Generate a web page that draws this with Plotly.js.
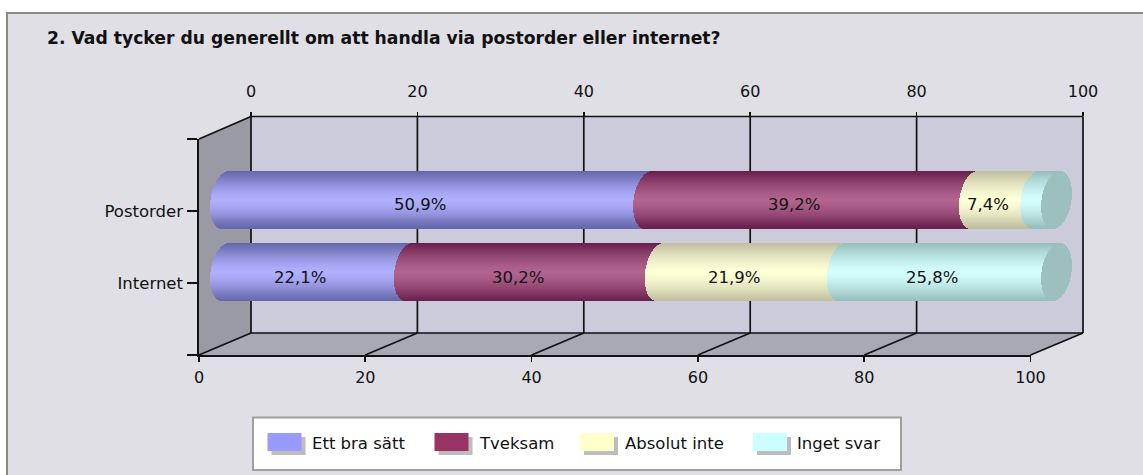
<!DOCTYPE html>
<html><head><meta charset="utf-8">
<script src="https://cdn.plot.ly/plotly-3.0.1.min.js"></script>
<style>html,body{margin:0;padding:0;background:#fff}#c{width:1143px;height:475px}</style>
</head><body><div id="c"></div>
<script>
const categories = ['Postorder', 'Internet'];
const seriesNames = ['Ett bra sätt', 'Tveksam', 'Absolut inte', 'Inget svar'];
const ettBraSatt = [50.9, 22.1];
const tveksam = [39.2, 30.2];
const absolutInte = [7.4, 21.9];
const ingetSvar = [2.5, 25.8];
const titleText = '2. Vad tycker du generellt om att handla via postorder eller internet?';
const xTicks = [0, 20, 40, 60, 80, 100];

const W = 1143, H = 475;
const FONT = 'DejaVu Sans, sans-serif';
const seriesValues = [ettBraSatt, tveksam, absolutInte, ingetSvar];
const centreColors = [[176,176,255],[178,100,143],[255,255,216],[212,255,255]];
const edgeColors = [[100,100,168],[104,30,76],[190,190,160],[148,188,186]];
const swatchColors = ['#9999ff','#993366','#ffffcc','#ccffff'];
const capColor = 'rgb(155,192,189)';

const px = x => x / W, py = y => 1 - y / H;
const S = 8.31, X0 = 225.5, Y0 = 272, U = 72.2;
const RX = 15 / S, SKEW = 3.5 / S, HALF = 28.7 / U, N = 58;
const edge = (v, t, sign) => v + sign * RX * Math.sqrt(Math.max(0, 1 - t * t)) + SKEW * t;
const yRow = [1, 0];

const traces = [];
function shade(c, e, t) {
  const k = Math.pow(Math.abs(t), 1.35);
  return 'rgb(' + c.map((v, i) => Math.round(v + (e[i] - v) * k)).join(',') + ')';
}
function bandTrace(fromFn, toFn, colorFn) {
  const x = [], y = [], base = [], color = [];
  yRow.forEach((yc, r) => {
    for (let b = 0; b < N; b++) {
      const t = 1 - 2 * (b + 0.5) / N;
      const a = fromFn(r, t), z = toFn(r, t);
      y.push(yc + t * HALF); base.push(a); x.push(z - a); color.push(colorFn(t));
    }
  });
  return {type:'bar', orientation:'h', x, y, base, width:(2 * HALF / N) * 1.25,
    marker:{color, line:{width:0}}, hoverinfo:'skip', showlegend:false, xaxis:'x', yaxis:'y'};
}
const cums = [0, 1].map(r => { let c = 0; return [0].concat(seriesValues.map(s => (c += s[r]))); });
seriesValues.forEach((s, i) => {
  traces.push(bandTrace(
    (r, t) => edge(cums[r][i], t, -1),
    (r, t) => edge(cums[r][i + 1], t, i === 3 ? 1 : -1) ,
    t => shade(centreColors[i], edgeColors[i], t)));
});
traces.push(bandTrace((r, t) => edge(100, t, -1), (r, t) => edge(100, t, 1), () => capColor));
traces.push({type:'scatter', x:[], y:[], xaxis:'x2', yaxis:'y2', showlegend:false, hoverinfo:'skip'});
traces.push({type:'scatter', x:[], y:[], xaxis:'x3', yaxis:'y3', showlegend:false, hoverinfo:'skip'});

const FX0 = 199, FX100 = 1030.5, BX0 = 251, BX100 = 1083, FYB = 355, FYT = 139, BYB = 333, BYT = 116.5;
const fx = v => FX0 + (FX100 - FX0) * v / 100, bx = v => BX0 + (BX100 - BX0) * v / 100;
const P = (x, y) => px(x).toFixed(5) + ',' + py(y).toFixed(5);
const LW = 1.7;
const poly = (pts, fill) => ({type:'path', xref:'paper', yref:'paper', layer:'below',
  path:'M' + pts.map(p => P(p[0], p[1])).join('L') + 'Z', fillcolor:fill, line:{width:0}});
const seg = (a, b, c, w) => ({type:'line', xref:'paper', yref:'paper', layer:'below',
  x0:px(a[0]), y0:py(a[1]), x1:px(b[0]), y1:py(b[1]), line:{color:c || '#111', width:w || LW}});
const rect = (x0, y0, x1, y1, fill, lc, lw) => ({type:'rect', xref:'paper', yref:'paper', layer:'below',
  x0:px(x0), y0:py(y0), x1:px(x1), y1:py(y1), fillcolor:fill, line:{color:lc || fill, width:lw || 0}});

const shapes = [
  rect(7, 13, 1160, 490, '#dfdfe5', '#8b8b80', 2),
  poly([[BX0,BYT],[BX100,BYT],[BX100,BYB],[BX0,BYB]], '#cbcbdb'),
  poly([[FX0,FYT],[BX0,BYT],[BX0,BYB],[FX0,FYB]], '#9a9aa5'),
  poly([[FX0,FYB],[BX0,BYB],[BX100,BYB],[FX100,FYB]], '#a9a9b6'),
  seg([BX0,BYT],[BX100,BYT]), seg([BX0,BYB],[BX100,BYB]),
  seg([FX0,FYT],[BX0,BYT])
];
xTicks.forEach(v => {
  shapes.push(seg([bx(v),BYT],[bx(v),BYB]));
  shapes.push(seg([fx(v),FYB],[bx(v),BYB]));
});

shapes.push(rect(253, 417.5, 901, 470, '#ffffff', '#a0a09a', 2));
const swX = [267.5, 434.5, 580, 753], txtX = [310, 477, 622.5, 795];
const annotations = [];
seriesNames.forEach((n, i) => {
  shapes.push(rect(swX[i] + 4, 437, swX[i] + 38, 455, '#bdbdbd'));
  shapes.push(rect(swX[i], 433, swX[i] + 34, 451, swatchColors[i]));
  annotations.push({xref:'paper', yref:'paper', x:px(txtX[i]), y:py(443), xanchor:'left', yanchor:'middle',
    text:n, showarrow:false, font:{family:FONT, size:16.5, color:'#111'}});
});
annotations.push({xref:'paper', yref:'paper', x:px(45), y:py(38), xanchor:'left', yanchor:'middle',
  text:'<b>' + titleText + '</b>', showarrow:false, font:{family:FONT, size:17.2, color:'#111'}});
seriesValues.forEach((s, i) => s.forEach((v, r) => {
  if (v < 5) return;
  annotations.push({xref:'x', yref:'y', x:cums[r][i] + v / 2, y:yRow[r], xshift:-17, yshift:-5,
    text:v.toFixed(1).replace('.', ',') + '%', showarrow:false,
    font:{family:FONT, size:16.5, color:'#111'}});
}));

const axisBase = {showgrid:false, zeroline:false, fixedrange:true};
const xm = v => (v - X0) / S;
const tickFont = {family:FONT, size:16, color:'#111'};
const yTickFont = {family:FONT, size:16.5, color:'#111'};
const layout = {
  width:W, height:H, margin:{l:0, r:0, t:0, b:0}, paper_bgcolor:'#ffffff', plot_bgcolor:'rgba(0,0,0,0)',
  showlegend:false, barmode:'overlay', bargap:0, shapes, annotations,
  xaxis:Object.assign({}, axisBase, {domain:[0,1], range:[xm(0), xm(W)], visible:false, anchor:'y'}),
  yaxis:Object.assign({}, axisBase, {domain:[0,1], range:[(Y0 - H) / U, Y0 / U], visible:false, anchor:'x'}),
  xaxis2:Object.assign({}, axisBase, {domain:[px(FX0), px(FX100)], range:[0,100], anchor:'y2', side:'bottom',
    tickvals:xTicks, ticktext:xTicks.map(String), ticks:'outside', ticklen:5, tickwidth:LW, tickcolor:'#111',
    showline:true, linecolor:'#111', linewidth:LW, tickfont:tickFont, ticklabelstandoff:2, automargin:false}),
  yaxis2:Object.assign({}, axisBase, {domain:[py(FYB), py(FYT)], range:[-1,2], anchor:'x2', side:'left',
    tickvals:[-1,0,1,2], ticktext:['', categories[1], categories[0], ''], ticks:'outside', ticklen:10, tickwidth:LW, tickcolor:'#111',
    showline:true, linecolor:'#111', linewidth:LW, tickfont:yTickFont, ticklabelstandoff:1, automargin:false}),
  xaxis3:Object.assign({}, axisBase, {domain:[px(BX0), px(BX100)], range:[0,100], anchor:'y3', side:'top',
    tickvals:xTicks, ticktext:xTicks.map(String), ticks:'outside', ticklen:4, tickwidth:LW, tickcolor:'#111',
    showline:false, tickfont:tickFont, ticklabelstandoff:8, automargin:false}),
  yaxis3:Object.assign({}, axisBase, {domain:[py(BYB), py(BYT)], range:[0,1], anchor:'x3', visible:false})
};
Plotly.newPlot('c', traces, layout, {displayModeBar:false, responsive:false, staticPlot:true});
</script></body></html>
